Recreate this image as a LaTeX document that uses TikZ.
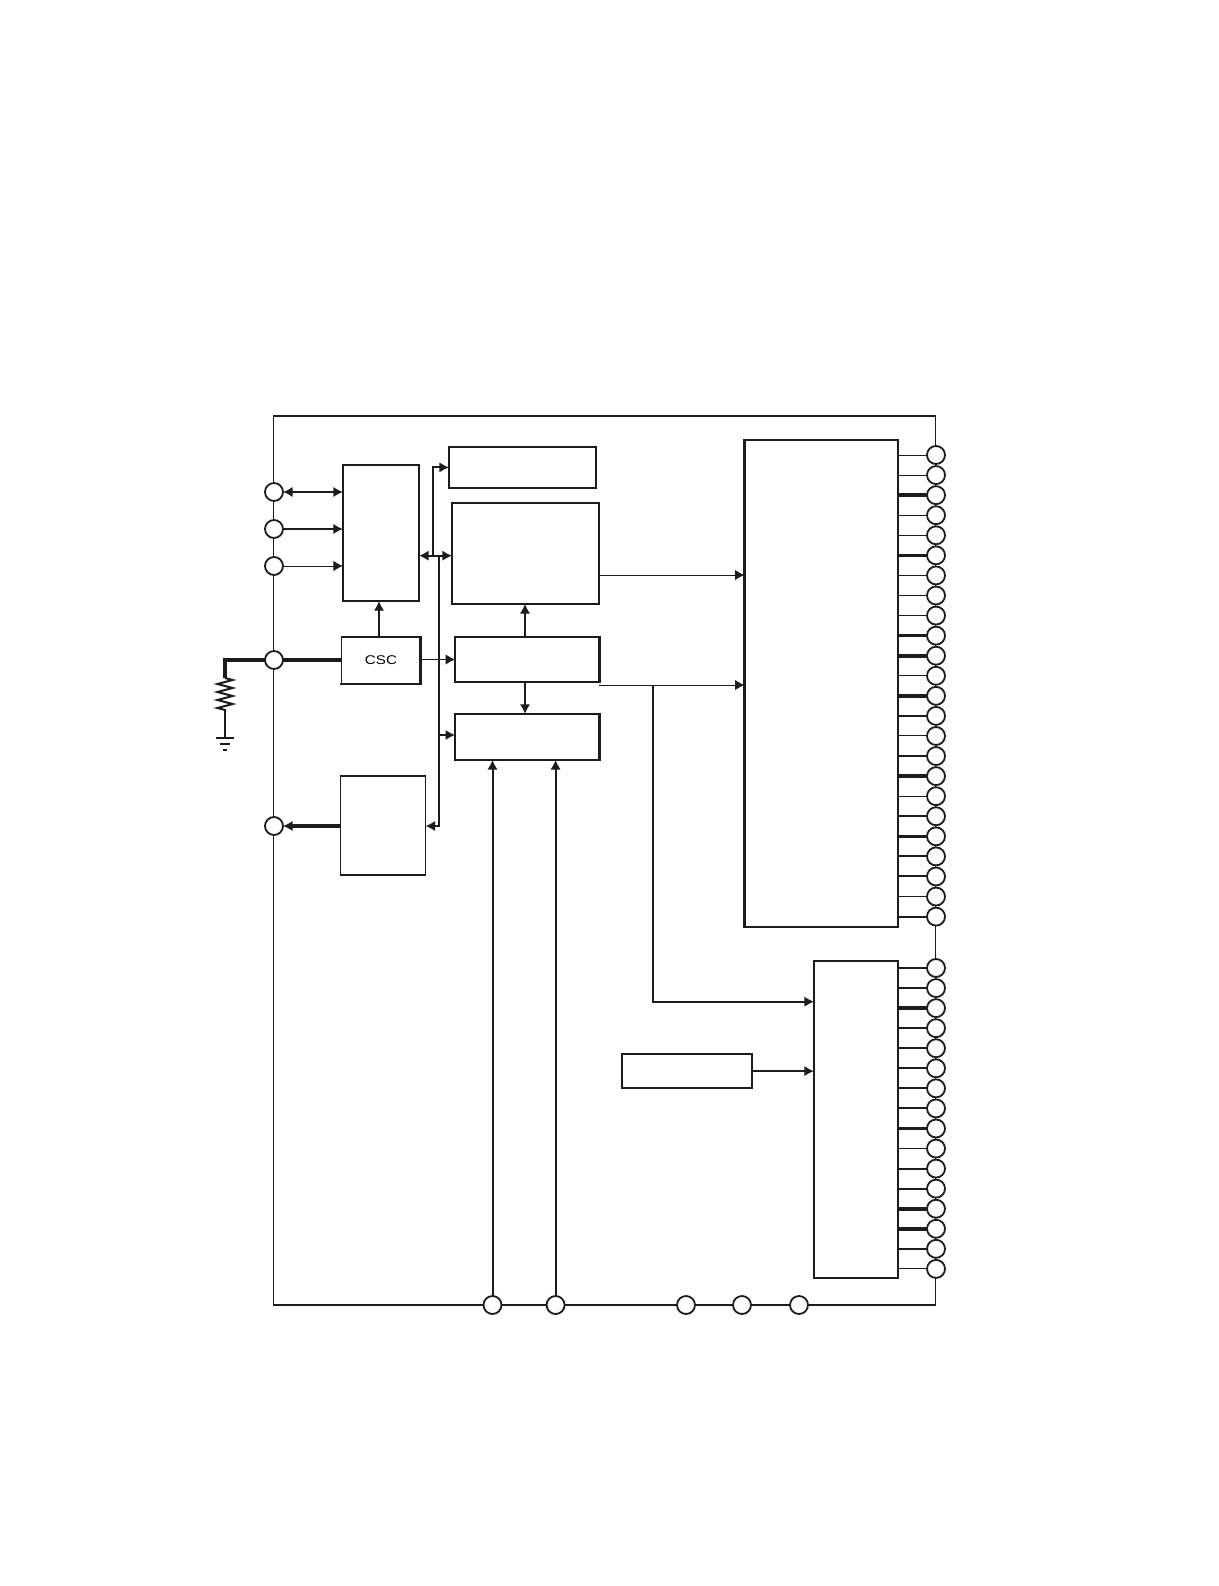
\documentclass[tikz,border=0pt]{standalone}
\usepackage{fontspec}
\setmainfont{Liberation Sans}
\usepackage{xcolor}
\usetikzlibrary{arrows.meta,positioning,decorations.pathmorphing}
\definecolor{wireblack}{HTML}{1C1C1C}
\begin{document}
\begin{tikzpicture}[x=.25mm,y=-.25mm,node distance=8mm and 8mm,>={Latex[length=2.4mm,width=2.6mm]},font=\fontsize{9}{9}\selectfont]
\tikzset{blk/.style n args={2}{draw=wireblack,line width=.38mm,fill=white,minimum width=#1,minimum height=#2,inner sep=0pt,outer sep=0pt},
padc/.style={circle,draw=wireblack,line width=.45mm,fill=white,minimum size=4.5mm,inner sep=0pt,outer sep=0pt},
wa/.style={color=wireblack,line width=.25mm},
wb/.style={color=wireblack,line width=.5mm},
wc/.style={color=wireblack,line width=.9mm},
edgeb/.style={color=wireblack,line width=.7mm,line cap=rect}}
\useasboundingbox (0,0) rectangle (1218,1586);
\node[draw=wireblack,line width=.38mm,minimum width=165.45mm,minimum height=222.25mm,inner sep=0pt,outer sep=0pt] (chip) at (604.6,860.5) {};
% blocks
\node[blk={19mm}{34mm}] (ctrl) at (381,533) {};
\node[blk={19.75mm}{11.75mm},below=9mm of ctrl] (csc) {\raisebox{-.4mm}{\scalebox{1.2}[1]{CSC}}};
\node[blk={21.25mm}{24.75mm},below=23mm of csc,xshift=.5mm] (dac) {};
\node[blk={36.75mm}{25.25mm},right=8.25mm of ctrl,yshift=-5.1mm] (big) {};
\node[blk={36.75mm}{10.25mm},above=3.75mm of big,xshift=-.75mm] (topb) {};
\node[blk={36mm}{11.25mm},below=8.25mm of big,xshift=.4mm] (mid) {};
\node[blk={36mm}{11.5mm},below=8mm of mid] (low) {};
\node[blk={38.35mm}{121.75mm}] (memup) at (821.3,683.5) {};
\node[blk={21mm}{79.25mm},below=8.5mm of memup.south east,anchor=north east] (memlo) {};
\node[blk={32.5mm}{8.5mm},left=15.5mm of memlo,yshift=12.1mm] (refb) {};
% heavier sides of the blocks
\foreach \a/\b in {ctrl.north east/ctrl.south east,topb.north east/topb.south east,topb.south west/topb.south east,
big.north west/big.north east,big.north east/big.south east,csc.north east/csc.south east,csc.south west/csc.south east,
mid.north east/mid.south east,low.north west/low.north east,low.north east/low.south east,
memup.north west/memup.south west,memlo.north west/memlo.south west}
  \draw[edgeb] (\a)--(\b);
% pads
\foreach \n/\yy in {1/492,2/529,3/566,4/660,5/826}
  \node[padc] (pl\n) at (274,\yy) {};
\foreach \n/\xx in {1/492.5,2/555.6,3/686,4/742,5/799}
  \node[padc] (pb\n) at (\xx,1305) {};
\foreach \n/\w in {1/wa,2/wa,3/wc,4/wa,5/wa,6/wc,7/wa,8/wa,9/wa,10/wc,11/wc,12/wa,13/wc,14/wb,15/wa,16/wb,17/wc,18/wa,19/wb,20/wc,21/wb,22/wb,23/wa,24/wb} {
  \node[padc] (pu\n) at (936,{455+(\n-1)*20.07}) {};
  \draw[\w] (pu\n)--(memup.east |- pu\n);
}
\foreach \n/\w in {1/wb,2/wb,3/wc,4/wb,5/wb,6/wb,7/wb,8/wb,9/wc,10/wa,11/wb,12/wb,13/wc,14/wc,15/wb,16/wa} {
  \node[padc] (pd\n) at (936,{968+(\n-1)*20.06}) {};
  \draw[\w] (pd\n)--(memlo.east |- pd\n);
}
% left side
\draw[wb,<->] (pl1)--(ctrl.west |- pl1);
\draw[wb,->] (pl2)--(ctrl.west |- pl2);
\draw[wa,->] (pl3)--(ctrl.west |- pl3);
\draw[wc] (pl4)--(csc.west |- pl4);
\draw[wc,->] (dac.west |- pl5)--(pl5);
\draw[wb,->] (csc.north -| 379,0)--(ctrl.south -| 379,0);
\draw[wa,->] (csc.east |- 0,659.5)--(mid.west |- 0,659.5);
\draw[wb,->] (mid.north -| 525,0)--(big.south -| 525,0);
\draw[wb,->] (mid.south -| 525,0)--(low.north -| 525,0);
% bus
\coordinate (busa) at (432.7,555.7);
\coordinate (busb) at (439,555.7);
\draw[wb,<->] (ctrl.east |- busa)--(big.west |- busa);
\draw[wb,->] (busa)|-(topb.west);
\draw[wb,->] (busb)|-(dac.east |- pl5);
\draw[wb,->] (439,735)--(low.west |- 0,735);
% bottom pads
\draw[wb,->] (pb1)--(low.south -| pb1);
\draw[wb,->] (pb2)--(low.south -| pb2);
% right side
\coordinate (midout) at (599,685);
\coordinate (brk) at (653,685);
\draw[wa,->] (big.east |- 0,575)--(memup.west |- 0,575);
\draw[wa,->] (midout)--(memup.west |- midout);
\draw[wb,->] (brk)|-(memlo.west |- 0,1001.7);
\draw[wb,->] (refb.east)--(memlo.west |- refb);
% resistor and ground
\coordinate (rtop) at (225,678);
\coordinate (rbot) at (225,712);
\coordinate (gnd) at (225,738);
\draw[wc] (pl4)-|(rtop);
\draw[wb,decorate,decoration={zigzag,amplitude=1.9mm,segment length=2mm}] (rtop)--(rbot);
\draw[wb] (rbot)--(gnd);
\draw[wb] ([xshift=-2.25mm]gnd)--([xshift=2.25mm]gnd);
\draw[wb] ([xshift=-1.25mm,yshift=-1.5mm]gnd)--([xshift=1.25mm,yshift=-1.5mm]gnd);
\draw[wb] ([xshift=-.6mm,yshift=-3mm]gnd)--([xshift=.6mm,yshift=-3mm]gnd);
\end{tikzpicture}
\end{document}
